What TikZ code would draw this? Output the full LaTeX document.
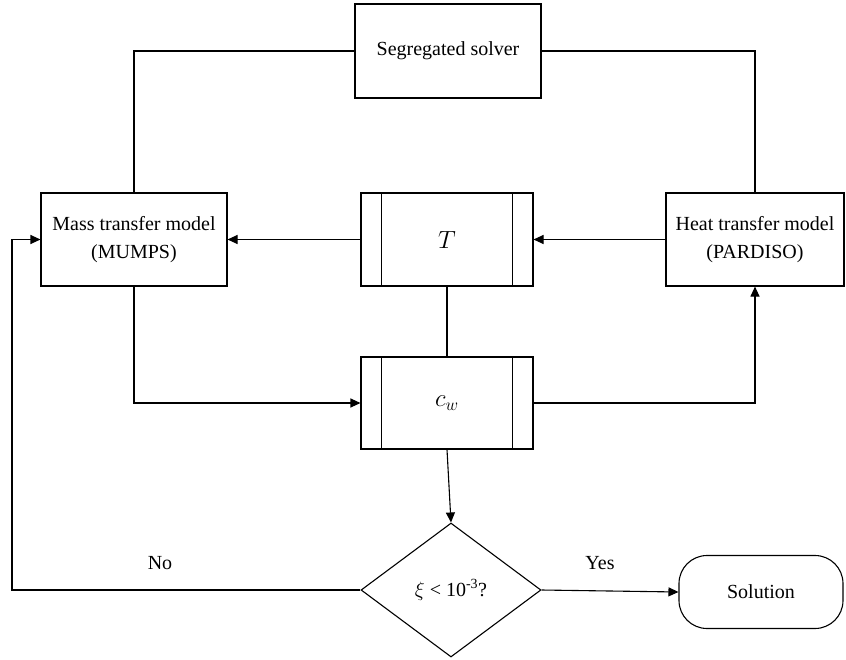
\documentclass[tikz,border=0pt]{standalone}
\usepackage{fontspec}
\setmainfont{Liberation Serif}
\usetikzlibrary{arrows.meta,shapes.geometric}

\begin{document}
\begin{tikzpicture}[x=1pt,y=-1pt,line width=1.1pt,
  every node/.style={font=\fontsize{20}{28}\selectfont},
  block/.style={draw,rectangle,align=center,inner sep=0pt},
  varbox/.style={draw,rectangle,minimum width=172pt,inner sep=0pt,font=\fontsize{24}{28}\selectfont},
  decision/.style={draw,diamond,minimum width=180pt,minimum height=134pt,inner sep=0pt},
  terminal/.style={draw,rectangle,rounded corners=28pt,minimum width=164pt,minimum height=73pt},
  >={Triangle[length=10pt,width=9pt]}]
\useasboundingbox (0,0) rectangle (846,659);
\node [block,minimum width=186pt,minimum height=94pt] (solver) at (448,51) {Segregated solver};
\node [block,minimum width=186pt,minimum height=93pt] (mass) at (134,239.5) {Mass transfer model\\(MUMPS)};
\node [block,minimum width=178pt,minimum height=93pt] (heat) at (755,239.5) {Heat transfer model\\(PARDISO)};
\node [varbox,minimum height=93pt] (T) at (447,239.5) {$T$};
\node [varbox,minimum height=92pt] (cw) at (447,403) {$c_w$};
\foreach \n in {T,cw} {
  \draw ([xshift=21pt]\n.north west) -- ([xshift=21pt]\n.south west);
  \draw ([xshift=-21pt]\n.north east) -- ([xshift=-21pt]\n.south east);
}
\node [decision] (check) at (451,590) {$\xi$ < 10\textsuperscript{-3}?};
\node [terminal] (sol) at (761,592) {Solution};
\coordinate (back) at (12,590);
\draw (solver.west) -| (mass.north);
\draw (solver.east) -| (heat.north);
\draw [->] (T.west) -- (mass.east);
\draw [->] (heat.west) -- (T.east);
\draw (T.south) -- (cw.north);
\draw [->] (mass.south) |- (cw.west);
\draw [->] (cw.east) -| (heat.south);
\draw [->] (cw.south) -- (check.north);
\draw [->] (check.west) -- (back) |- (mass.west);
\draw [->] (check.east) -- (sol.west);
\node at (160,563) {No};
\node at (600,563) {Yes};
\end{tikzpicture}
\end{document}
